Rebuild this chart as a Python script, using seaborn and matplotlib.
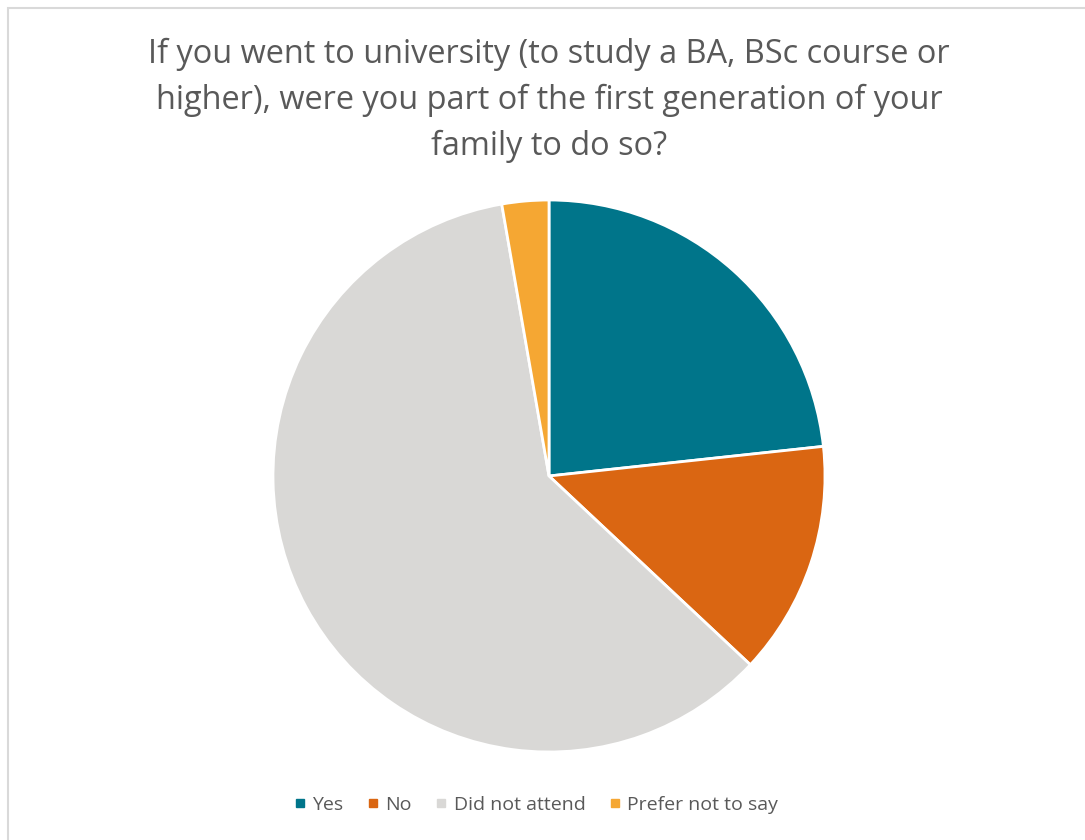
import matplotlib
matplotlib.use("Agg")
import matplotlib.pyplot as plt
from matplotlib.patches import Rectangle
from matplotlib.lines import Line2D
import seaborn as sns

# Survey responses
categories = ["Yes", "No", "Did not attend", "Prefer not to say"]
counts = [17, 10, 44, 2]
colors = ["#00758A", "#DA6612", "#D9D8D6", "#F5A733"]

title = ("If you went to university (to study a BA, BSc course or\n"
         "higher), were you part of the first generation of your\n"
         "family to do so?")

sns.set_theme(style="white")
plt.rcParams["font.family"] = ["Open Sans", "DejaVu Sans"]

W, H = 1085, 840
fig = plt.figure(figsize=(W / 100, H / 100), dpi=100)
fig.patch.set_facecolor("white")

# Chart frame
fig.patches.append(Rectangle((7.5 / W, -0.05), 1.2, 1 - 8.5 / H + 0.05,
                             transform=fig.transFigure, fill=False,
                             edgecolor="#D9D9D9", linewidth=1.5))

# Pie area
cx, cy, r = 549, 476, 276
ax = fig.add_axes([(cx - r) / W, (H - cy - r) / H, 2 * r / W, 2 * r / H])
ax.pie(counts, colors=sns.color_palette(colors), startangle=90,
       counterclock=False,
       wedgeprops=dict(edgecolor="white", linewidth=2))
ax.set_xlim(-1, 1)
ax.set_ylim(-1, 1)
ax.set_axis_off()

fig.text(549 / W, 1 - 38 / H, title, ha="center", va="top",
         fontsize=23.4, color="#595959", linespacing=1.5)

handles = [Line2D([], [], marker="s", linestyle="none", markersize=5.8,
                  markerfacecolor=c, markeredgecolor=c) for c in colors]
fig.legend(handles, categories, loc="center", bbox_to_anchor=(535 / W, 1 - 805 / H),
           ncol=4, frameon=False, fontsize=14, labelcolor="#595959",
           handletextpad=0.25, columnspacing=1.1, handlelength=0.8)

fig.savefig("out.png", dpi=100, facecolor="white")
